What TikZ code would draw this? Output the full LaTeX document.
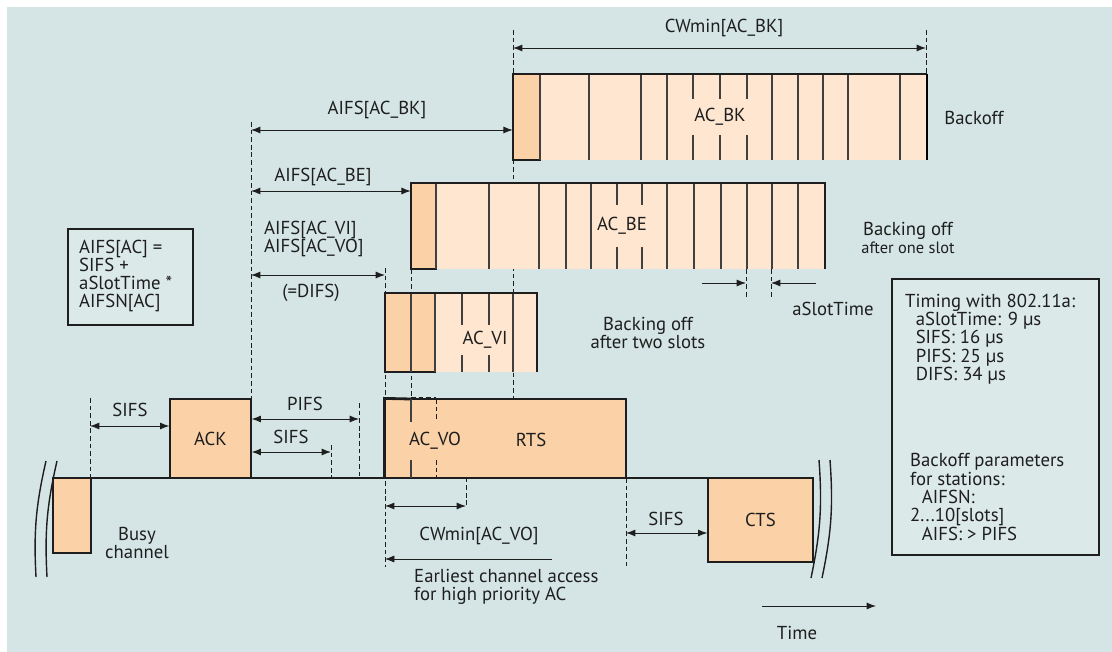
\documentclass[tikz,border=0pt]{standalone}
\usepackage{fontspec}
\setmainfont{PT Sans}
\usetikzlibrary{arrows.meta,fit,positioning}
\definecolor{bg}{HTML}{D5E5E5}
\definecolor{boxbg}{HTML}{DCE9E9}
\definecolor{pkt}{HTML}{FBD2A8}
\definecolor{slot}{HTML}{FEE6D0}
\definecolor{ink}{HTML}{1E1E1E}
\tikzset{
  pkt/.style={draw=ink,fill=pkt,line width=1pt,inner sep=0pt},
  infobox/.style={draw=ink,fill=boxbg,line width=1pt,inner sep=0pt},
  dim/.style={{Latex[length=8pt,width=6pt]}-{Latex[length=8pt,width=6pt]},ink,line width=0.8pt},
  onearrow/.style={-{Latex[length=8pt,width=6pt]},ink,line width=0.8pt},
  guide/.style={ink,line width=0.8pt,dash pattern=on 4pt off 2.5pt},
  slotln/.style={ink!85,line width=0.9pt},
  edge/.style={ink,line width=2.4pt},
  tag/.style={fill=#1,inner xsep=2pt,inner ysep=0pt},
}
\begin{document}
\begin{tikzpicture}[x=0.3mm,y=-0.3mm,font=\fontsize{16}{15.6}\selectfont,text=ink]
\useasboundingbox (0,0) rectangle (1112,652);
\fill[white] (0,0) rectangle (1112,652);
\fill[bg] (7,7) rectangle (1112,652);

% time marks
\draw[guide] (90,398) coordinate (gsifs) -- (90,478);
\draw[guide] (251,122) coordinate (gack) -- (251,399);
\draw[guide] (331,445) coordinate (gsifsb) -- (331,478);
\draw[guide] (359,403) coordinate (gpifs) -- (359,478);
\draw[guide] (385,268) coordinate (gdifs) -- (385,567) coordinate (gdifsb);
\draw[guide] (411,269) coordinate (gbe) -- (411,399);
\draw[guide] (513,30) coordinate (gbk) -- (513,399);
\draw[guide] (466,470) -- (466,506) coordinate (gvo);
\draw[guide] (626,478) -- (626,567) coordinate (grts);
\draw[guide] (746,269) -- (746,298) coordinate (gslota);
\draw[guide] (771,269) -- (771,298) coordinate (gslotb);
\draw[guide] (926,30) coordinate (gcw) -- (926,74);

% backoff windows
\fill[slot] (513,74) rectangle (927,160);
\fill[pkt] (513,74) rectangle (540,160);
\foreach \x in {540,589,641,667,693,720,747,772,798,823,848,900} \draw[slotln] (\x,74) -- (\x,160);
\draw[edge] (513,160) -- (513,74) -- (927,74);
\draw[line width=1.4pt] (927,74) -- (927,160);
\node[fit={(513,74) (927,160)},inner sep=0pt] (acbk) {};
\node[tag=slot,minimum height=30pt] at (720,117) {AC\_BK};

\fill[slot] (411,183) rectangle (825,269);
\fill[pkt] (411,183) rectangle (436,269);
\foreach \x in {436,489,539,566,591,617,642,667,694,721,747,772,798} \draw[slotln] (\x,183) -- (\x,269);
\draw[edge] (411,269) -- (411,183) -- (825,183) -- (825,269);
\node[fit={(411,183) (825,269)},inner sep=0pt] (acbe) {};
\node[tag=slot,minimum height=36pt] at (622,226) {AC\_BE};

\fill[slot] (385,293) rectangle (537,372);
\fill[pkt] (385,293) rectangle (435,372);
\foreach \x in {411,435,462,489,513} \draw[slotln] (\x,293) -- (\x,372);
\draw[edge] (385,372) -- (385,293) -- (537,293) -- (537,372);
\node[fit={(385,293) (537,372)},inner sep=0pt] (acvi) {};
\node[tag=slot,minimum height=25pt] at (485,340) {AC\_VI};

% channel
\draw[ink,line width=1pt] (53,478) -- (813,478);
\node[pkt,fit={(53,478) (91,553)}] (busy) {};
\node[pkt,fit={(170,399) (251,478)}] (ack) {};
\node[pkt,fit={(385,399) (626,478)}] (rts) {};
\node[pkt,fit={(708,478) (813,562)}] (cts) {};
\draw[edge] (rts.south west) -- (rts.north west) -- (411,399);
\draw[slotln] (411,399) -- (411,478);
\draw[guide] (436,399) -- (436,478);
\draw[guide,line width=1.6pt] (411,398) -- (436,398);
\node[tag=pkt,minimum height=32pt] (acvo) at (435,441) {AC\_VO};
\node at (ack.center) {ACK};
\node at (531,440) {RTS};
\node at (cts.center) {CTS};
\foreach \d in {0,11} {
  \draw[ink,line width=1.2pt] (46+\d,461) to[bend right=8] (36+\d,577);
  \draw[ink,line width=1.2pt] (819+\d,460) to[bend left=8] (811+\d,578);
}

% intervals
\draw[dim] (gbk|-0,48) -- (gcw|-0,48);
\draw[dim] (gack|-0,130) -- (acbk.west|-0,130);
\draw[dim] (gack|-0,191) -- (acbe.west|-0,191);
\draw[dim] (gack|-0,275) -- (gdifs|-0,275);
\draw[dim] (gsifs|-0,426) -- (ack.west|-0,426);
\draw[dim] (ack.east|-0,419) -- (gpifs|-0,419);
\draw[dim] (ack.east|-0,452) -- (gsifsb|-0,452);
\draw[dim] (gdifsb|-0,506) -- (gvo);
\draw[dim] (grts|-0,533) -- (cts.west|-0,533);
\draw[onearrow] (702,283) -- (gslota|-0,283);
\draw[onearrow] (816,283) -- (gslotb|-0,283);
\draw[onearrow,line width=0.6pt] (552,559) -- (gdifsb|-0,559);
\draw[onearrow] (762,606) -- (876,606);

% labels
\node (lcwbk) at (724,28) {CWmin[AC\_BK]};
\node (laifsbk) at (377,110) {AIFS[AC\_BK]};
\node (laifsbe) at (323,177) {AIFS[AC\_BE]};
\node[anchor=west,align=left,inner sep=0pt] (laifsvi) at (264,239) {AIFS[AC\_VI]\\AIFS[AC\_VO]};
\node (ldifs) at (311,293) {(=DIFS)};
\node (lbackoff) at (974,118) {Backoff};
\node[align=center] (lonesl) at (908,238) {Backing off\\{\fontsize{14}{14}\selectfont after one slot}};
\node[align=center] (ltwosl) at (648,333) {Backing off\\after two slots};
\node (lslot) at (833,309) {aSlotTime};
\node (lsifs) at (130,410) {SIFS};
\node (lpifs) at (305,404) {PIFS};
\node (lsifsb) at (291,437) {SIFS};
\node (lsifsc) at (666,519) {SIFS};
\node (lcwvo) at (479,536) {CWmin[AC\_VO]};
\node[anchor=west,align=left,inner sep=0pt] (learly) at (414,587) {Earliest channel access\\for high priority AC};
\node[align=center] (lbusy) at (137,543) {Busy\\channel};
\node (ltime) at (797,633) {Time};

% side boxes
\node[infobox,fit={(68,229) (193,325)}] (formula) {};
\node[anchor=west,align=left,inner sep=0pt] at (79,276) {AIFS[AC] =\\SIFS +\\aSlotTime *\\AIFSN[AC]};
\node[infobox,fit={(892,279) (1099,555)}] (timing) {};
\node[anchor=west,align=left,inner sep=0pt] at (905,339) {Timing with 802.11a:\\\hspace*{9pt}aSlotTime: 9 µs\\\hspace*{9pt}SIFS: 16 µs\\\hspace*{9pt}PIFS: 25 µs\\\hspace*{9pt}DIFS: 34 µs};
\node[anchor=west,align=left,inner sep=0pt] at (910,497) {Backoff parameters\\for stations:\\\hspace*{10pt}AIFSN:\\2...10[slots]\\\hspace*{10pt}AIFS: > PIFS};
\end{tikzpicture}
\end{document}
